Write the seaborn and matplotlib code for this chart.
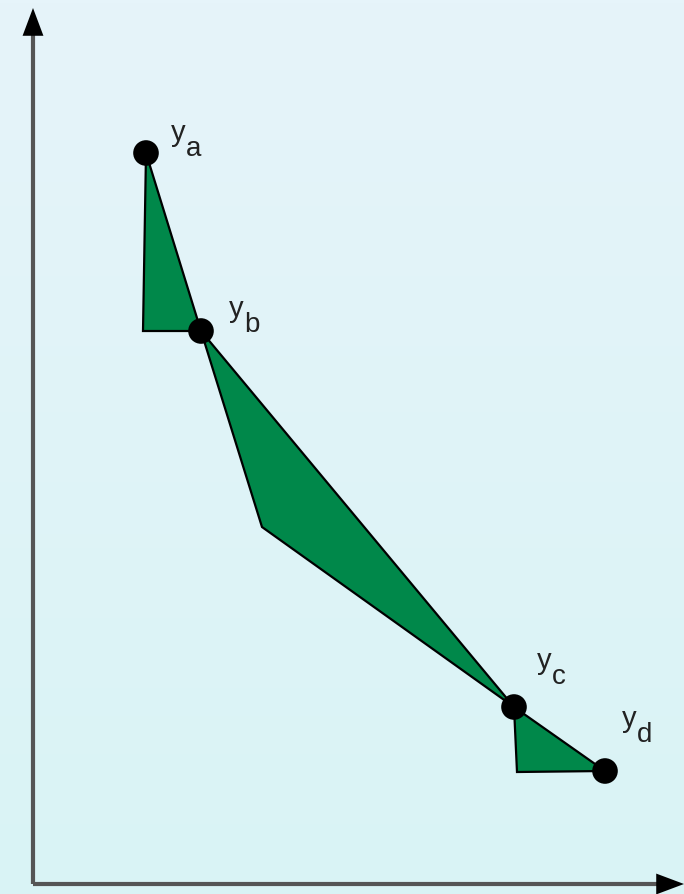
import matplotlib
matplotlib.use("Agg")
import matplotlib.pyplot as plt
import seaborn as sns
import numpy as np
import pandas as pd

# Point values (origin at the corner of the two axes)
point_names = ["a", "b", "c", "d"]
point_x = [113, 168, 481, 572]
point_y = [731, 553, 177, 113]

# Extra corners of the three shaded pieces
tri_top_corner = (110, 553)
mid_corner = (229, 357)
tri_low_corner = (484, 112)

# Label anchors (baseline, left of the "y")
label_x = [138, 196, 504, 589]
label_y = [743, 567, 215, 157]

sns.set_style("white")
plt.rcParams["font.family"] = ["Liberation Sans", "DejaVu Sans"]

fig = plt.figure(figsize=(6.84, 8.94), dpi=100)
ax = fig.add_axes([0, 0, 1, 1])
ax.set_xlim(-33, 651)
ax.set_ylim(-10, 884)
ax.axis("off")

# Soft blue gradient background
top = np.array([230, 244, 250]) / 255
bottom = np.array([217, 243, 245]) / 255
t = np.linspace(0, 1, 256)[:, None]
grad = (top * (1 - t) + bottom * t)[:, None, :]
ax.imshow(grad, extent=(-33, 651, -10, 884), aspect="auto", zorder=0)

pts = pd.DataFrame({"name": point_names, "x": point_x, "y": point_y})
green = "#00884a"

pieces = [
    [(point_x[0], point_y[0]), tri_top_corner, (point_x[1], point_y[1])],
    [(point_x[1], point_y[1]), mid_corner, (point_x[2], point_y[2])],
    [(point_x[2], point_y[2]), tri_low_corner, (point_x[3], point_y[3])],
]
for poly in pieces:
    xs, ys = zip(*poly)
    ax.fill(xs, ys, facecolor=green, edgecolor="black", lw=1.6, joinstyle="miter", zorder=2)

sns.scatterplot(data=pts, x="x", y="y", ax=ax, color="black", s=340,
                edgecolor="none", zorder=4, legend=False)

# "y" with a subscript letter of almost the same size
for name, lx, ly in zip(point_names, label_x, label_y):
    ax.text(lx, ly, "y", fontsize=21, color="#222222", ha="left", va="baseline", zorder=5)
    ax.annotate(name, xy=(lx, ly), xytext=(11, -11), textcoords="offset points",
                fontsize=20, color="#222222", ha="left", va="baseline", zorder=5)

# Axes drawn as arrows
ax.plot([0, 0], [0, 850], color="#555555", lw=3, solid_capstyle="butt", zorder=1)
ax.plot([0, 625], [0, 0], color="#555555", lw=3, solid_capstyle="butt", zorder=1)
head = dict(arrowstyle="-|>,head_length=2.0,head_width=0.75", color="black",
            lw=0, shrinkA=0, shrinkB=0)
ax.annotate("", xy=(0, 876), xytext=(0, 840), arrowprops=head, zorder=3)
ax.annotate("", xy=(651, 0), xytext=(615, 0), arrowprops=head, zorder=3)

fig.savefig("out.png", dpi=100)
